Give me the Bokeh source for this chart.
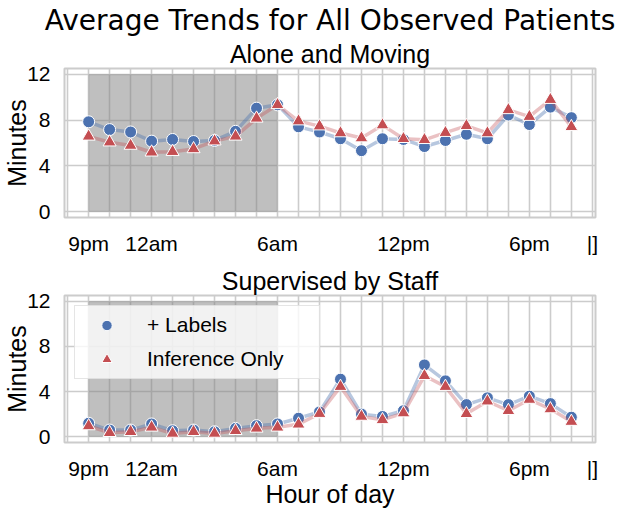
from bokeh.plotting import figure
from bokeh.models import FixedTicker, Range1d, Title, Legend, LegendItem
from bokeh.layouts import column
from bokeh.embed import file_html
from bokeh.resources import INLINE

# ---------------- data ----------------
hours = list(range(24))
tick_positions = [0, 3, 9, 15, 21, 24]
tick_labels = ["9pm", "12am", "6am", "12pm", "6pm", "|]"]
grid_positions = list(range(-1, 25))
y_ticks = [0, 4, 8, 12]
night_start, night_end = 0, 9
shade_bottom, shade_top = 0, 12

moving_labels = [7.85, 7.17, 6.96, 6.16, 6.31, 6.13, 6.22, 7.02, 9.04, 9.33, 7.41, 6.96,
                 6.37, 5.33, 6.37, 6.31, 5.69, 6.22, 6.76, 6.37, 8.44, 7.61, 9.13, 8.21]
moving_infer = [6.58, 6.07, 5.78, 5.19, 5.24, 5.48, 6.16, 6.58, 8.15, 9.33, 7.91, 7.47,
                6.87, 6.43, 7.56, 6.37, 6.28, 6.90, 7.50, 6.87, 8.89, 8.30, 9.78, 7.41]
supervised_labels = [1.20, 0.60, 0.60, 1.14, 0.54, 0.60, 0.45, 0.75, 0.99, 1.14, 1.65, 2.20,
                     5.10, 2.01, 1.80, 2.31, 6.36, 4.95, 2.85, 3.45, 2.85, 3.60, 2.94, 1.74]
supervised_infer = [0.96, 0.36, 0.45, 0.84, 0.30, 0.45, 0.30, 0.54, 0.75, 0.84, 1.11, 2.05,
                    4.44, 1.80, 1.50, 2.10, 5.40, 4.44, 2.04, 3.15, 2.31, 3.30, 2.46, 1.35]

main_title = "Average Trends for All Observed Patients"
panel_titles = ["Alone and Moving", "Supervised by Staff"]
y_label = "Minutes"
x_label = "Hour of day"
series_names = ["+ Labels", "Inference Only"]

# ---------------- style ----------------
BLUE = "#4c72b0"
RED = "#c44e52"
GRID = "#cccccc"
FONT = "Liberation Sans"
X0, X1 = -1.15, 24.15
Y0, Y1 = -0.5, 12.5
W = 624
BL, BR = 63, 29


def make_panel(height, border_top, border_bottom, lab, inf, title, xlabel, legend):
    p = figure(width=W, height=height, x_range=Range1d(X0, X1), y_range=Range1d(Y0, Y1),
               output_backend="svg", toolbar_location=None, title=None,
               min_border_left=BL, min_border_right=BR,
               min_border_top=border_top, min_border_bottom=border_bottom)
    p.background_fill_color = "white"
    p.border_fill_color = "white"
    p.outline_line_color = GRID
    p.outline_line_width = 2
    p.xgrid.ticker = FixedTicker(ticks=grid_positions)
    p.ygrid.ticker = FixedTicker(ticks=y_ticks)
    for g in (p.xgrid, p.ygrid):
        g.grid_line_color = GRID
        g.grid_line_width = 1.6
    p.xaxis.ticker = FixedTicker(ticks=tick_positions)
    p.xaxis.major_label_overrides = {t: l for t, l in zip(tick_positions, tick_labels)}
    p.yaxis.ticker = FixedTicker(ticks=y_ticks)
    for ax in (p.xaxis, p.yaxis):
        ax.axis_line_color = None
        ax.major_tick_line_color = None
        ax.minor_tick_line_color = None
        ax.major_label_text_font = FONT
        ax.major_label_text_font_size = "21px"
        ax.major_label_text_color = "black"
        ax.axis_label_text_font = FONT
        ax.axis_label_text_font_size = "25px"
        ax.axis_label_text_font_style = "normal"
        ax.axis_label_text_color = "black"
    p.xaxis.major_label_standoff = 8
    p.yaxis.major_label_standoff = 8
    p.yaxis.axis_label = y_label
    p.yaxis.axis_label_standoff = -7
    if xlabel:
        p.xaxis.axis_label = x_label
        p.xaxis.axis_label_standoff = -3

    sub = Title(text=title, align="center", text_font=FONT, text_font_size="25px",
                text_font_style="normal", text_color="black", standoff=2)
    p.add_layout(sub, "above")

    p.quad(left=[night_start], right=[night_end], bottom=[shade_bottom], top=[shade_top],
           fill_color="#808080", fill_alpha=0.5, line_color=None)

    p.line(hours, lab, line_color=BLUE, line_alpha=0.4, line_width=3.5)
    r1 = p.scatter(hours, lab, marker="circle", size=12, fill_color=BLUE,
                   line_color="white", line_width=1)
    p.line(hours, inf, line_color=RED, line_alpha=0.35, line_width=3.5)
    r2 = p.scatter(hours, inf, marker="triangle", size=13, fill_color=RED,
                   line_color="white", line_width=1)

    if legend:
        lg = Legend(items=[LegendItem(label=series_names[0], renderers=[r1]),
                           LegendItem(label=series_names[1], renderers=[r2])],
                    location="top_left", margin=10, padding=6,
                    glyph_width=51, glyph_height=26, label_height=26, spacing=8,
                    label_standoff=15, label_width=166,
                    label_text_font=FONT, label_text_font_size="21px",
                    label_text_color="black",
                    background_fill_color="white", background_fill_alpha=0.8,
                    border_line_color=GRID, border_line_width=1.2)
        p.add_layout(lg)
    return p


p1 = make_panel(259, 68, 42, moving_labels, moving_infer, panel_titles[0], False, False)
p1.add_layout(Title(text=main_title, align="center", text_font="DejaVu Sans",
                    text_font_size="28px", text_font_style="normal",
                    text_color="black", standoff=0, offset=-3), "above")
p2 = make_panel(252, 36, 69, supervised_labels, supervised_infer, panel_titles[1], True, True)

layout = column(p1, p2, spacing=0)
open("out.html", "w").write(file_html(layout, INLINE))
